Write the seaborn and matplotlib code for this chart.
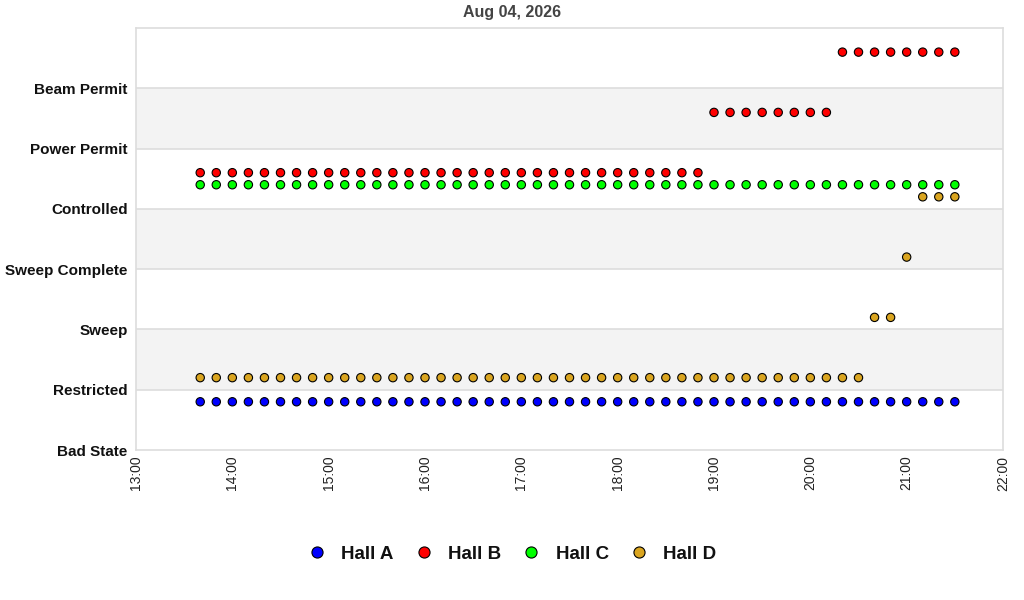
import matplotlib
matplotlib.use("Agg")
import matplotlib.pyplot as plt
import matplotlib.dates as mdates
import seaborn as sns
import pandas as pd
from matplotlib.lines import Line2D

# ---- data ----
state_labels = ["Bad State", "Restricted", "Sweep", "Sweep Complete",
                "Controlled", "Power Permit", "Beam Permit"]
times = pd.date_range("2026-08-04 13:40", "2026-08-04 21:30", freq="10min")

hall_a = ["Restricted"] * 48
hall_b = ["Controlled"] * 32 + ["Power Permit"] * 8 + ["Beam Permit"] * 8
hall_c = ["Controlled"] * 48
hall_d = ["Restricted"] * 42 + ["Sweep"] * 2 + ["Sweep Complete"] * 1 + ["Controlled"] * 3

halls = ["Hall A", "Hall B", "Hall C", "Hall D"]
offsets = {"Hall A": -0.2, "Hall B": 0.6, "Hall C": 0.4, "Hall D": 0.2}
colors = {"Hall A": "#0000FF", "Hall B": "#FF0000", "Hall C": "#00FF00", "Hall D": "#DAA520"}
title = "Aug 04, 2026"

rows = []
for name, states in zip(halls, [hall_a, hall_b, hall_c, hall_d]):
    for t, s in zip(times, states):
        rows.append({"time": t, "hall": name,
                     "y": state_labels.index(s) + offsets[name]})
df = pd.DataFrame(rows)

# ---- plot ----
sns.set_theme(style="white")
plt.rcParams["font.family"] = ["Liberation Sans", "DejaVu Sans"]

fig = plt.figure(figsize=(10.24, 6.0), dpi=100)
ax = fig.add_axes([136 / 1024, 1 - 450 / 600, 867 / 1024, 422 / 600])

for k in (1, 3, 5):
    ax.axhspan(k, k + 1, color="#f3f3f3", zorder=0, lw=0)
for k in range(1, 7):
    ax.axhline(k, color="#dddddd", lw=1.2, zorder=0.5)

sns.scatterplot(data=df, x="time", y="y", hue="hall",
                palette=colors, hue_order=halls, s=36, edgecolor="black",
                linewidth=0.8, ax=ax, legend=False, zorder=3)

ax.set_ylim(0, 7)
ax.set_yticks(range(7))
ax.set_yticklabels(state_labels, fontweight="bold", fontsize=11, color="#111111")
ax.set_xlim(pd.Timestamp("2026-08-04 13:00"), pd.Timestamp("2026-08-04 22:00"))
ax.xaxis.set_major_locator(mdates.HourLocator())
ax.xaxis.set_major_formatter(mdates.DateFormatter("%H:%M"))
plt.setp(ax.get_xticklabels(), rotation=90, fontsize=10, color="#222222")
ax.tick_params(axis="y", length=0, pad=6)
ax.tick_params(axis="x", length=0, pad=4)
ax.set_xlabel("")
ax.set_ylabel("")
for sp in ax.spines.values():
    sp.set_color("#dddddd")
    sp.set_linewidth(1.2)

fig.text(0.5, 1 - 13 / 600, title, ha="center", va="center", fontsize=11.5,
         fontweight="bold", color="#444444")

handles = [Line2D([], [], marker="o", ls="", markersize=8, markerfacecolor=colors[h],
                  markeredgecolor="black", markeredgewidth=0.8) for h in halls]
fig.legend(handles, halls, loc="center", bbox_to_anchor=(0.5, 1 - 554 / 600), ncol=4,
           frameon=False, prop={"weight": "bold", "size": 13.5}, handletextpad=0.8,
           columnspacing=1.1, handlelength=1.0, labelcolor="#111111")

fig.savefig("out.png", dpi=100)
